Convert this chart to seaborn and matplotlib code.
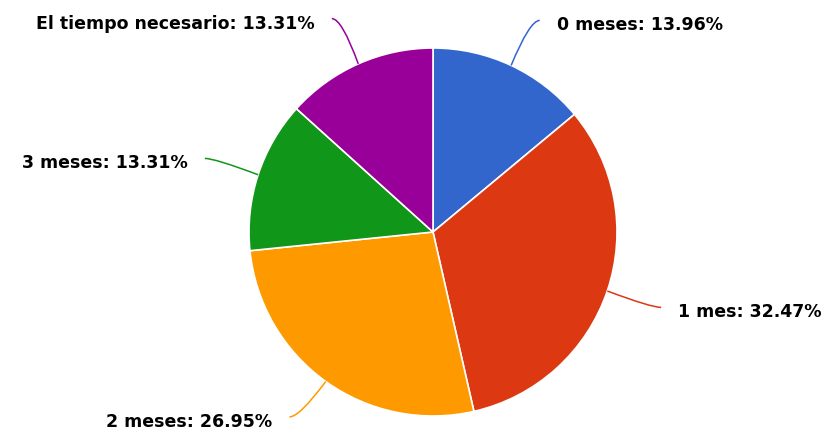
import matplotlib
matplotlib.use("Agg")
import matplotlib.pyplot as plt
from matplotlib.path import Path
from matplotlib.patches import PathPatch
import numpy as np
import seaborn as sns

sns.set_style("white")
plt.rcParams['font.family'] = ['DejaVu Sans']

# data
labels = ['0 meses', '1 mes', '2 meses', '3 meses', 'El tiempo necesario']
values = [13.96, 32.47, 26.95, 13.31, 13.31]
colors = ['#3366CC', '#DC3912', '#FF9900', '#109618', '#990099']

# label placement (end of connector, in radius units)
label_xy = [(0.58, 1.15), (1.24, -0.41), (-0.78, -1.005), (-1.24, 0.40), (-0.55, 1.16)]

W, H = 831, 432
R = 184  # pie radius in px
cx, cy = 433, 200  # centre (from bottom-left)

fig = plt.figure(figsize=(W / 100, H / 100), dpi=100)
ax = fig.add_axes([0, 0, 1, 1])

wedges, _ = ax.pie(values, colors=colors, startangle=90, counterclock=False,
                   radius=1, wedgeprops=dict(edgecolor='white', linewidth=1.2))
ax.set_xlim(-cx / R, (W - cx) / R)
ax.set_ylim(-cy / R, (H - cy) / R)
ax.set_aspect('equal')
ax.axis('off')

px = 1 / R
for w, lab, v, c, (lx, ly) in zip(wedges, labels, values, colors, label_xy):
    ang = np.deg2rad((w.theta1 + w.theta2) / 2)
    x0, y0 = np.cos(ang), np.sin(ang)
    side = 1 if lx > 0 else -1
    ctrl = (lx - side * 10 * px, ly)
    path = Path([(x0, y0), ctrl, (lx, ly)], [Path.MOVETO, Path.CURVE3, Path.CURVE3])
    ax.add_patch(PathPatch(path, facecolor='none', edgecolor=c, lw=1.1))
    ax.text(lx + side * 17 * px, ly - 5 * px, f'{lab}: {v:.2f}%',
            ha='left' if side > 0 else 'right', va='center',
            fontsize=12.5, fontweight='bold', color='black')

plt.savefig('out.png', dpi=100)
